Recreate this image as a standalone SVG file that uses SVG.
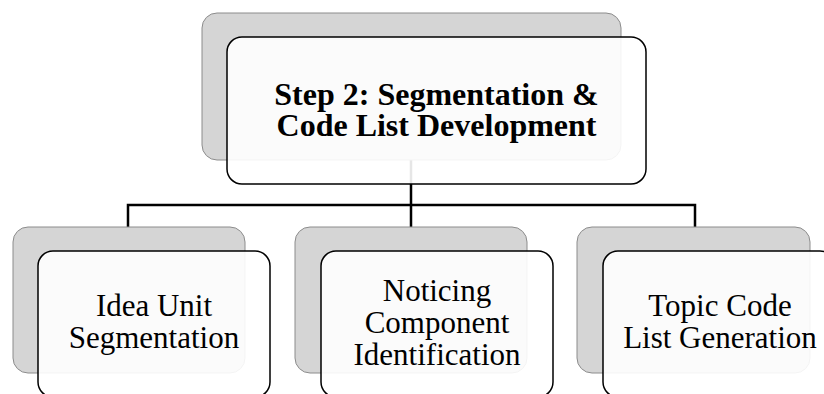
<svg xmlns="http://www.w3.org/2000/svg" width="824" height="394" viewBox="0 0 824 394">
  <style>
    .back { fill: #d5d5d5; stroke: #8c8c8c; stroke-width: 1; }
    .front { fill: #ffffff; fill-opacity: 0.9; stroke: #000000; stroke-width: 1.5; }
    .label { font-family: "Liberation Serif", "Times New Roman", serif; font-size: 31px; fill: #000000; text-anchor: middle; }
    .title { font-weight: bold; font-size: 32px; }
    .link { fill: none; stroke: #000000; stroke-width: 2.5; }
  </style>

  <!-- tree connectors: trunk from the root, bus bar, and drops to each child -->
  <g id="connectors">
    <path class="link" d="M411 160V205M128 227V205H695V227M411 205V227"/>
  </g>

  <g id="step2">
    <rect class="back" x="202" y="13" width="419" height="147" rx="15"/>
    <rect class="front" x="227" y="37" width="419" height="147" rx="15"/>
    <text class="label title" x="436.5" y="105">Step 2: Segmentation &amp;</text>
    <text class="label title" x="436.5" y="135.5">Code List Development</text>
  </g>

  <g id="idea-unit">
    <rect class="back" x="13" y="227" width="232" height="146" rx="15"/>
    <rect class="front" x="38" y="251" width="232" height="146" rx="15"/>
    <text class="label" x="154" y="315.5">Idea Unit</text>
    <text class="label" x="154" y="347.5">Segmentation</text>
  </g>

  <g id="noticing">
    <rect class="back" x="295" y="227" width="232" height="146" rx="15"/>
    <rect class="front" x="321" y="251" width="232" height="146" rx="15"/>
    <text class="label" x="437" y="301">Noticing</text>
    <text class="label" x="437" y="333">Component</text>
    <text class="label" x="437" y="365">Identification</text>
  </g>

  <g id="topic-code">
    <rect class="back" x="577" y="227" width="233" height="146" rx="15"/>
    <rect class="front" x="603" y="251" width="232" height="146" rx="15"/>
    <text class="label" x="720" y="316">Topic Code</text>
    <text class="label" x="720" y="348">List Generation</text>
  </g>
</svg>
